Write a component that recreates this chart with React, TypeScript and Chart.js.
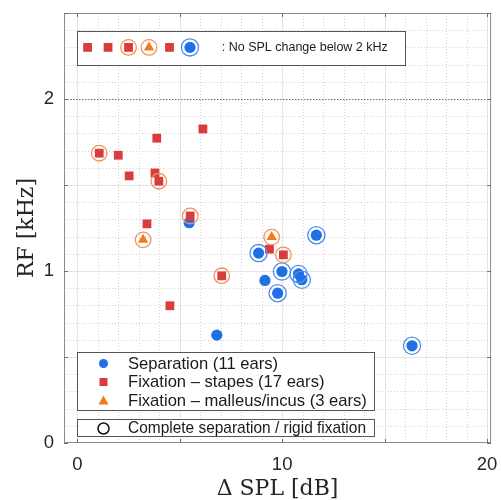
import React, { useEffect, useRef } from "react";
import { Chart, registerables } from "chart.js";

Chart.register(...registerables);

// ---- data ----
const separationX = [5.46, 8.85, 9.16, 9.99, 9.78, 10.8, 10.96, 11.67, 6.81, 16.34];
const separationY = [1.281, 1.104, 0.945, 0.997, 0.871, 0.983, 0.949, 1.208, 0.627, 0.565];
const separationComplete = [false, true, false, true, true, true, true, true, false, true];

const stapesX = [1.07, 2.0, 2.53, 3.88, 3.79, 3.98, 3.4, 5.51, 6.13, 7.05, 4.52, 9.38, 10.06];
const stapesY = [1.685, 1.673, 1.553, 1.772, 1.57, 1.522, 1.274, 1.32, 1.826, 0.972, 0.798, 1.127, 1.094];
const stapesRigid = [true, false, false, false, false, true, false, true, false, true, false, false, true];

const malleusX = [3.21, 9.49];
const malleusY = [1.181, 1.197];
const malleusRigid = [true, true];

// ears with no SPL change below 2 kHz (shown in the top row)
const noChangeGroup = ["stapes", "stapes", "stapes", "malleus", "stapes", "separation"];
const noChangeRing = [false, false, true, true, false, true];
const NO_CHANGE_ROW = 2.3;

const xTicks = [0, 10, 20];
const yTicks = [0, 1, 2];

const legendLabels = [
  "Separation (11 ears)",
  "Fixation \u2013 stapes (17 ears)",
  "Fixation \u2013 malleus/incus (3 ears)",
];
const ringLabel = "Complete separation / rigid fixation";
const noChangeLabel = ": No SPL change below 2 kHz";
const xTitle = "\u0394 SPL [dB]";
const yTitle = "RF [kHz]";

// ---- styles ----
const BLUE = "#1f6fe5";
const BLUE_RING = "#4d8ded";
const RED = "#da3b3b";
const ORANGE = "#f27a1f";
const ORANGE_RING = "#f2935a";

type P = { x: number; y: number };

function pts(xs: number[], ys: number[], mask?: boolean[]): P[] {
  const out: P[] = [];
  xs.forEach((x, i) => {
    if (!mask || mask[i]) out.push({ x, y: ys[i] });
  });
  return out;
}
function noChangePts(group: string, ringOnly: boolean): P[] {
  const out: P[] = [];
  noChangeGroup.forEach((g, i) => {
    if (g === group && (!ringOnly || noChangeRing[i])) out.push({ x: i + 0.5, y: NO_CHANGE_ROW });
  });
  return out;
}

const framePlugin = {
  id: "frame",
  beforeDatasetsDraw(chart: any) {
    const { ctx, chartArea: a, scales } = chart;
    const x = scales.x;
    const y = scales.y;
    const hLine = (py: number) => {
      ctx.beginPath();
      ctx.moveTo(a.left, py);
      ctx.lineTo(a.right, py);
      ctx.stroke();
    };
    const vLine = (px: number) => {
      ctx.beginPath();
      ctx.moveTo(px, a.top);
      ctx.lineTo(px, a.bottom);
      ctx.stroke();
    };
    ctx.save();
    // minor dotted grid
    ctx.lineWidth = 1;
    ctx.strokeStyle = "#d2d2d2";
    ctx.setLineDash([1, 2]);
    for (let v = 0; v <= 20; v++) {
      if (v % 5 === 0) continue;
      vLine(Math.round(x.getPixelForValue(v)) + 0.5);
    }
    for (let i = 1; i < 25; i++) {
      if (i % 5 === 0) continue;
      hLine(Math.round(y.getPixelForValue(i / 10)) + 0.5);
    }
    // major solid grid
    ctx.setLineDash([]);
    ctx.strokeStyle = "#e4e4e4";
    for (let v = 0; v <= 20; v += 5) vLine(Math.round(x.getPixelForValue(v)) + 0.5);
    [0.5, 1, 1.5].forEach((v) => hLine(Math.round(y.getPixelForValue(v)) + 0.5));
    // 2 kHz line
    ctx.strokeStyle = "#6a6a6a";
    ctx.setLineDash([1.5, 1.5]);
    hLine(Math.round(y.getPixelForValue(2)) + 0.5);
    ctx.setLineDash([]);
    // frame
    ctx.strokeStyle = "#8a8a8a";
    ctx.strokeRect(a.left + 0.5, a.top + 0.5, a.right - a.left - 1, a.bottom - a.top - 1);
    // inward ticks
    ctx.strokeStyle = "#6f6f6f";
    const tl = 4;
    for (let v = 0; v <= 20; v += 5) {
      const px = Math.round(x.getPixelForValue(v)) + 0.5;
      ctx.beginPath();
      ctx.moveTo(px, a.bottom);
      ctx.lineTo(px, a.bottom - tl);
      ctx.moveTo(px, a.top);
      ctx.lineTo(px, a.top + tl);
      ctx.stroke();
    }
    for (let v = 0; v <= 2.5; v += 0.5) {
      const py = Math.round(y.getPixelForValue(v)) + 0.5;
      ctx.beginPath();
      ctx.moveTo(a.left, py);
      ctx.lineTo(a.left + tl, py);
      ctx.moveTo(a.right, py);
      ctx.lineTo(a.right - tl, py);
      ctx.stroke();
    }

    // top box (no change)
    const bx0 = x.getPixelForValue(0);
    const bx1 = x.getPixelForValue(16);
    const by0 = y.getPixelForValue(2.395);
    const by1 = y.getPixelForValue(2.197);
    ctx.fillStyle = "#ffffff";
    ctx.fillRect(bx0, by0, bx1 - bx0, by1 - by0);
    ctx.strokeStyle = "#555555";
    ctx.strokeRect(Math.round(bx0) + 0.5, Math.round(by0) + 0.5, Math.round(bx1 - bx0), Math.round(by1 - by0));
    ctx.fillStyle = "#1a1a1a";
    ctx.font = "12.5px 'Liberation Sans', Arial, sans-serif";
    ctx.textBaseline = "middle";
    ctx.textAlign = "left";
    ctx.fillText(noChangeLabel, x.getPixelForValue(7.05), y.getPixelForValue(NO_CHANGE_ROW) + 0.5);

    // bottom legend boxes
    const lx0 = bx0;
    const lx1 = 374.5;
    ctx.fillStyle = "#ffffff";
    ctx.fillRect(lx0, 352, lx1 - lx0, 59);
    ctx.fillRect(lx0, 419, lx1 - lx0, 18);
    ctx.strokeStyle = "#555555";
    ctx.strokeRect(Math.round(lx0) + 0.5, 352.5, Math.round(lx1 - lx0), 58);
    ctx.strokeRect(Math.round(lx0) + 0.5, 419.5, Math.round(lx1 - lx0), 17);
    const mx = 103.5;
    const tx = 128;
    const rows = [363.5, 382, 400.5];
    ctx.font = "16.6px 'Liberation Sans', Arial, sans-serif";
    // markers
    ctx.fillStyle = BLUE;
    ctx.beginPath();
    ctx.arc(mx, rows[0], 4.5, 0, Math.PI * 2);
    ctx.fill();
    ctx.fillStyle = RED;
    ctx.fillRect(mx - 4, rows[1] - 4, 8, 8);
    ctx.fillStyle = ORANGE;
    ctx.beginPath();
    ctx.moveTo(mx, rows[2] - 5);
    ctx.lineTo(mx + 5, rows[2] + 4);
    ctx.lineTo(mx - 5, rows[2] + 4);
    ctx.closePath();
    ctx.fill();
    ctx.strokeStyle = "#111111";
    ctx.lineWidth = 1.5;
    ctx.beginPath();
    ctx.arc(mx, 428.5, 5.5, 0, Math.PI * 2);
    ctx.stroke();
    ctx.fillStyle = "#1a1a1a";
    legendLabels.forEach((t, i) => ctx.fillText(t, tx, rows[i] + 0.5));
    ctx.fillText(ringLabel, tx, 428.5, 238);

    ctx.restore();
  },
  afterDraw(chart: any) {
    const { ctx, chartArea: a } = chart;
    ctx.save();
    ctx.fillStyle = "#262626";
    ctx.font = "22px 'DejaVu Serif', serif";
    ctx.textAlign = "center";
    ctx.textBaseline = "alphabetic";
    ctx.fillText(xTitle, (a.left + a.right) / 2, 495);
    ctx.translate(33, (a.top + a.bottom) / 2);
    ctx.rotate(-Math.PI / 2);
    ctx.fillText(yTitle, 0, 0);
    ctx.restore();
  },
};

function zeroPad(s: any) {
  s.paddingTop = 0;
  s.paddingBottom = 0;
  s.paddingLeft = 0;
  s.paddingRight = 0;
}

export default function App() {
  const ref = useRef<HTMLCanvasElement | null>(null);
  useEffect(() => {
    document.body.style.margin = "0";
    if (!ref.current) return;
    const ringCommon = {
      pointStyle: "circle",
      backgroundColor: "rgba(0,0,0,0)",
      borderWidth: 1.3,
      showLine: false,
    };
    const chart = new Chart(ref.current, {
      type: "scatter",
      data: {
        datasets: [
          {
            ...ringCommon,
            label: "stapes rigid",
            data: [...pts(stapesX, stapesY, stapesRigid), ...noChangePts("stapes", true)],
            borderColor: ORANGE_RING,
            pointRadius: 7.8,
          },
          {
            ...ringCommon,
            label: "malleus rigid",
            data: [...pts(malleusX, malleusY, malleusRigid), ...noChangePts("malleus", true)],
            borderColor: ORANGE_RING,
            pointRadius: 7.8,
          },
          {
            ...ringCommon,
            label: "complete separation",
            data: [...pts(separationX, separationY, separationComplete), ...noChangePts("separation", true)],
            borderColor: BLUE_RING,
            pointRadius: 8.6,
          },
          {
            label: legendLabels[1],
            data: [...pts(stapesX, stapesY), ...noChangePts("stapes", false)],
            pointStyle: "rect",
            pointRadius: 6.2,
            backgroundColor: RED,
            borderColor: RED,
            borderWidth: 0,
          },
          {
            label: legendLabels[2],
            data: [...pts(malleusX, malleusY), ...noChangePts("malleus", false)],
            pointStyle: "triangle",
            pointRadius: 6,
            backgroundColor: ORANGE,
            borderColor: ORANGE,
            borderWidth: 0,
          },
          {
            label: legendLabels[0],
            data: [...pts(separationX, separationY), ...noChangePts("separation", false)],
            pointStyle: "circle",
            pointRadius: 5.6,
            backgroundColor: BLUE,
            borderColor: BLUE,
            borderWidth: 0,
          },
        ],
      },
      options: {
        responsive: false,
        animation: false,
        events: [],
        layout: { padding: { top: 13, right: 9, left: 0, bottom: 0 } },
        plugins: { legend: { display: false }, tooltip: { enabled: false } },
        scales: {
          x: {
            type: "linear",
            min: -0.65,
            max: 20.2,
            grid: { display: false },
            border: { display: false },
            afterBuildTicks: (s: any) => {
              s.ticks = xTicks.map((v) => ({ value: v }));
            },
            afterFit: (s: any) => {
              s.height = 57;
              zeroPad(s);
            },
            ticks: {
              padding: 3,
              maxRotation: 0,
              autoSkip: false,
              color: "#262626",
              font: { family: "'Liberation Sans', Arial, sans-serif", size: 18.5 },
            },
          },
          y: {
            type: "linear",
            min: 0,
            max: 2.5,
            grid: { display: false },
            border: { display: false },
            afterBuildTicks: (s: any) => {
              s.ticks = yTicks.map((v) => ({ value: v }));
            },
            afterFit: (s: any) => {
              s.width = 64;
              zeroPad(s);
            },
            ticks: {
              padding: 2,
              autoSkip: false,
              color: "#262626",
              font: { family: "'Liberation Sans', Arial, sans-serif", size: 18.5 },
            },
          },
        },
      },
      plugins: [framePlugin],
    } as any);
    return () => chart.destroy();
  }, []);
  return <canvas ref={ref} width={501} height={500} style={{ display: "block" }} />;
}
